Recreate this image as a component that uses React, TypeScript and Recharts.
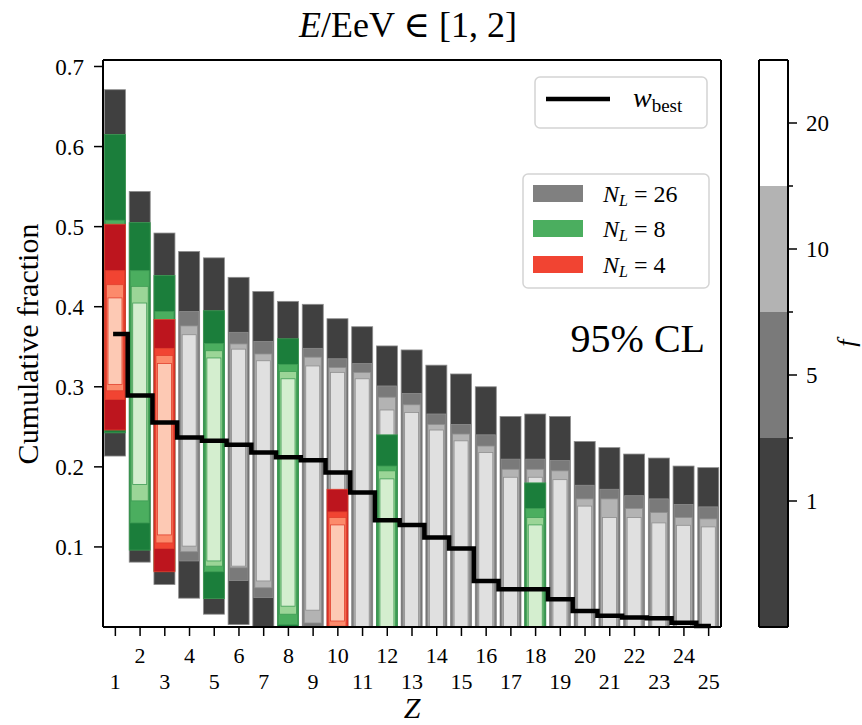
import React from "react";
import { Bar, BarChart, ComposedChart, Line, XAxis, YAxis } from "recharts";

type Band = [number, number] | null;

const Z_VALUES = [
  1, 2, 3, 4, 5, 6, 7, 8, 9, 10, 11, 12, 13, 14, 15, 16, 17, 18, 19, 20, 21,
  22, 23, 24, 25,
];

const W_BEST = [
  0.366, 0.289, 0.2554, 0.2367, 0.2325, 0.2275, 0.218, 0.212, 0.2083, 0.193,
  0.168, 0.1333, 0.1275, 0.1117, 0.098, 0.0575, 0.047, 0.047, 0.0346, 0.02,
  0.014, 0.012, 0.011, 0.0054, 0.0012,
];

// N_L = 26, one interval per Z for f = 1, 5, 10, 20
const GRAY_F1: Band[] = [
  [0.2135, 0.671], [0.081, 0.544], [0.053, 0.492], [0.036, 0.469],
  [0.016, 0.461], [0.003, 0.4367], [0, 0.419], [0, 0.4067], [0, 0.403],
  [0, 0.385], [0, 0.375], [0, 0.351], [0, 0.346], [0, 0.327], [0, 0.316],
  [0, 0.3], [0, 0.263], [0, 0.266], [0, 0.263], [0, 0.2317], [0, 0.224],
  [0, 0.216], [0, 0.211], [0, 0.201], [0, 0.199],
];
const GRAY_F5: Band[] = [
  [0.25, 0.6], [0.1, 0.5], [0.08, 0.43], [0.0825, 0.394], [0.04, 0.39],
  [0.058, 0.368], [0.0367, 0.3567], [0.01, 0.35], [0, 0.348], [0, 0.335],
  [0, 0.329], [0, 0.301], [0, 0.2917], [0, 0.266], [0, 0.253], [0, 0.24],
  [0, 0.2096], [0, 0.2096], [0, 0.208], [0, 0.177], [0, 0.172], [0, 0.164],
  [0, 0.16], [0, 0.153], [0, 0.15],
];
const GRAY_F10: Band[] = [
  [0.26, 0.59], [0.11, 0.49], [0.09, 0.42], [0.094, 0.376], [0.05, 0.38],
  [0.074, 0.3535], [0.049, 0.341], [0.02, 0.34], [0.005, 0.337], [0, 0.324],
  [0, 0.318], [0, 0.287], [0, 0.2775], [0, 0.253], [0, 0.241], [0, 0.226],
  [0, 0.197], [0, 0.197], [0, 0.195], [0, 0.16], [0, 0.16], [0, 0.148],
  [0, 0.143], [0, 0.1367], [0, 0.135],
];
const GRAY_F20: Band[] = [
  [0.27, 0.58], [0.12, 0.48], [0.1, 0.41], [0.101, 0.365], [0.06, 0.37],
  [0.076, 0.347], [0.0575, 0.3325], [0.03, 0.33], [0.021, 0.326],
  [0.0075, 0.318], [0, 0.31], [0, 0.271], [0, 0.268], [0, 0.246],
  [0, 0.2325], [0, 0.218], [0, 0.187], [0, 0.187], [0, 0.184], [0, 0.151],
  [0, 0.1367], [0, 0.1367], [0, 0.13], [0, 0.127], [0, 0.125],
];

// N_L = 8
const GREEN_F1: Band[] = [
  [0.2425, 0.615], [0.096, 0.505], [0.07, 0.439], null, [0.0354, 0.395],
  null, null, [0, 0.36], null, null, null, [0, 0.24], null, null, null, null,
  null, [0, 0.18], null, null, null, null, null, null, null,
];
const GREEN_F5: Band[] = [
  [0.25, 0.508], [0.13, 0.445], [0.1, 0.394], null, [0.069, 0.354], null,
  null, [0.003, 0.328], null, null, null, [0, 0.201], null, null, null, null,
  null, [0, 0.148], null, null, null, null, null, null, null,
];
const GREEN_F10: Band[] = [
  [0.26, 0.49], [0.1575, 0.4254], [0.11, 0.37], null, [0.076, 0.345], null,
  null, [0.016, 0.319], null, null, null, [0, 0.195], null, null, null, null,
  null, [0, 0.1367], null, null, null, null, null, null, null,
];
const GREEN_F20: Band[] = [
  [0.27, 0.48], [0.178, 0.4046], [0.12, 0.36], null, [0.0825, 0.336], null,
  null, [0.026, 0.31], null, null, null, [0, 0.185], null, null, null, null,
  null, [0, 0.1275], null, null, null, null, null, null, null,
];

// N_L = 4
const RED_F1: Band[] = [
  [0.246, 0.503], null, [0.069, 0.384], null, null, null, null, null, null,
  [0, 0.172], null, null, null, null, null, null, null, null, null, null,
  null, null, null, null, null,
];
const RED_F5: Band[] = [
  [0.284, 0.445], null, [0.098, 0.348], null, null, null, null, null, null,
  [0, 0.1437], null, null, null, null, null, null, null, null, null, null,
  null, null, null, null, null,
];
const RED_F10: Band[] = [
  [0.295, 0.4275], null, [0.105, 0.339], null, null, null, null, null, null,
  [0.001, 0.1367], null, null, null, null, null, null, null, null, null, null,
  null, null, null, null, null,
];
const RED_F20: Band[] = [
  [0.303, 0.411], null, [0.115, 0.329], null, null, null, null, null, null,
  [0.0075, 0.1275], null, null, null, null, null, null, null, null, null,
  null, null, null, null, null, null,
];

const Y_TICKS = [0.1, 0.2, 0.3, 0.4, 0.5, 0.6, 0.7];
const Y_MAX = 0.7081;

const CB_LEVELS = [1, 5, 10, 20];
const CB_SPANS = [1.5, 1, 1, 1];
const CB_TICKS = [1, 1.5, 2, 2.5, 3, 3.5, 4];

const GRAYS = ["#404040", "#7a7a7a", "#b3b3b3", "#e0e0e0"];
const GREENS = ["#1b7e3b", "#4bae5f", "#9bd597", "#d4eecf"];
const REDS = ["#bd151e", "#f14432", "#fc8a6b", "#fdc9b4"];
const CB_COLORS = ["#404040", "#7a7a7a", "#b3b3b3", "#ffffff"];

const INSETS = [0, 1, 2, 3.5];
const SERIF = "'Liberation Serif', 'DejaVu Serif', serif";

const SERIES = [
  { key: "gray", bands: [GRAY_F1, GRAY_F5, GRAY_F10, GRAY_F20], colors: GRAYS, stroke: "#8e8e8e" },
  { key: "green", bands: [GREEN_F1, GREEN_F5, GREEN_F10, GREEN_F20], colors: GREENS, stroke: "#3f9c55" },
  { key: "red", bands: [RED_F1, RED_F5, RED_F10, RED_F20], colors: REDS, stroke: "#e0402e" },
];

const rows = Z_VALUES.map((z, i) => {
  const row: Record<string, unknown> = { z, w: W_BEST[i] };
  SERIES.forEach((s) => {
    s.bands.forEach((b, level) => {
      row[`${s.key}${level}`] = b[i];
    });
  });
  return row;
});

function bandShape(key: string, inset: number, fill: string, stroke: string) {
  return (props: any) => {
    const { x, y, width, height, payload } = props;
    if (!payload || payload[key] == null || !height) return <g />;
    const top = height < 0 ? y + height : y;
    return (
      <rect
        x={x + inset + 0.5}
        y={top}
        width={Math.max(width - 2 * inset - 1, 0)}
        height={Math.abs(height)}
        fill={fill}
        stroke={stroke}
        strokeWidth={0.8}
      />
    );
  };
}

function ZTick(props: any) {
  const { x, y, payload } = props;
  const even = payload.value % 2 === 0;
  return (
    <text
      x={x}
      y={y + (even ? 26 : 51.5)}
      textAnchor="middle"
      fontFamily={SERIF}
      fontSize={22}
      fill="#000"
    >
      {payload.value}
    </text>
  );
}

function ColorbarTick(props: any) {
  const { x, y, payload } = props;
  const v = payload.value;
  const major = Number.isInteger(v);
  const ax = x - 18;
  return (
    <g>
      <line x1={ax} x2={ax + (major ? 9 : 5)} y1={y} y2={y} stroke="#000" strokeWidth={1.5} />
      {major && (
        <text x={x} y={y} dy="0.35em" textAnchor="start" fontFamily={SERIF} fontSize={23} fill="#000">
          {CB_LEVELS[v - 1]}
        </text>
      )}
    </g>
  );
}

const frameLine = { stroke: "#000", strokeWidth: 2 };

export default function App() {
  const cbRow: Record<string, unknown> = { name: "f" };
  CB_SPANS.forEach((s, i) => {
    cbRow[`s${i}`] = s;
  });

  return (
    <div style={{ position: "absolute", left: 0, top: 0, width: 862, height: 725, background: "#fff" }}>
      <div style={{ position: "absolute", left: 0, top: 0 }}>
        <ComposedChart
          width={862}
          height={725}
          data={rows}
          margin={{ top: 59, right: 140, bottom: 38, left: 43 }}
          barSize={22}
          barGap={-22}
          barCategoryGap={0}
        >
          <XAxis
            dataKey="z"
            height={60}
            interval={0}
            tickSize={9}
            tickMargin={1}
            tick={(p: any) => <ZTick {...p} />}
            axisLine={frameLine}
            tickLine={{ stroke: "#000", strokeWidth: 1.5 }}
          />
          <XAxis xAxisId="top" dataKey="z" orientation="top" height={1} tick={false} tickLine={false} axisLine={frameLine} />
          <YAxis
            domain={[0, Y_MAX]}
            ticks={Y_TICKS}
            width={60}
            tickSize={9}
            tickMargin={10}
            tickFormatter={(v: number) => v.toFixed(1)}
            tick={{ fill: "#000", fontSize: 23, fontFamily: SERIF }}
            axisLine={frameLine}
            tickLine={{ stroke: "#000", strokeWidth: 1.5 }}
          />
          <YAxis yAxisId="right" orientation="right" width={1} domain={[0, Y_MAX]} tick={false} tickLine={false} axisLine={frameLine} />
          {SERIES.map((s) =>
            s.bands.map((_, level) => {
              const key = `${s.key}${level}`;
              return (
                <Bar
                  key={key}
                  dataKey={key}
                  isAnimationActive={false}
                  shape={bandShape(key, INSETS[level], s.colors[level], s.stroke)}
                />
              );
            }),
          )}
          <Line
            dataKey="w"
            type="step"
            stroke="#000"
            strokeWidth={4.5}
            strokeLinecap="square"
            dot={false}
            activeDot={false}
            isAnimationActive={false}
          />
        </ComposedChart>
      </div>

      <div style={{ position: "absolute", left: 740, top: 0 }}>
        <BarChart
          width={122}
          height={725}
          data={[cbRow]}
          margin={{ top: 59, right: 14, bottom: 97, left: 18 }}
          barCategoryGap={0}
        >
          <XAxis dataKey="name" height={1} tick={false} tickLine={false} axisLine={frameLine} />
          <XAxis xAxisId="top" dataKey="name" orientation="top" height={1} tick={false} tickLine={false} axisLine={frameLine} />
          <YAxis yAxisId="left" width={1} domain={[0, 4.5]} tick={false} tickLine={false} axisLine={frameLine} />
          <YAxis
            orientation="right"
            width={60}
            domain={[0, 4.5]}
            ticks={CB_TICKS}
            interval={0}
            tickSize={9}
            tickMargin={9}
            tickLine={false}
            tick={(p: any) => <ColorbarTick {...p} />}
            axisLine={frameLine}
          />
          {CB_SPANS.map((_, i) => (
            <Bar key={i} dataKey={`s${i}`} stackId="cb" fill={CB_COLORS[i]} isAnimationActive={false} />
          ))}
        </BarChart>
      </div>

      <svg
        width={862}
        height={725}
        style={{ position: "absolute", left: 0, top: 0, pointerEvents: "none" }}
        fontFamily={SERIF}
      >
        <text x={408} y={37} textAnchor="middle" fontSize={36} fill="#000">
          <tspan fontStyle="italic">E</tspan>/EeV ∈ [1, 2]
        </text>
        <text
          x={38}
          y={344}
          transform="rotate(-90, 38, 344)"
          textAnchor="middle"
          fontSize={30}
          fill="#000"
        >
          Cumulative fraction
        </text>
        <text x={412} y={718} textAnchor="middle" fontSize={30} fontStyle="italic" fill="#000">
          Z
        </text>
        <text x={855} y={343} transform="rotate(-90, 855, 343)" textAnchor="middle" fontSize={26} fontStyle="italic" fill="#000">
          f
        </text>
        <text x={705} y={352} textAnchor="end" fontSize={40} fill="#000">
          95% CL
        </text>

        <rect x={535} y={77} width={172} height={51} rx={5} fill="#fff" stroke="#d4d4d4" strokeWidth={1.5} />
        <line x1={546} x2={610} y1={99} y2={99} stroke="#000" strokeWidth={4.5} />
        <text x={633} y={107} fontSize={28} fill="#000">
          <tspan fontStyle="italic">w</tspan>
          <tspan fontSize={19} dy={5}>best</tspan>
        </text>

        <rect x={523} y={174} width={186} height={114} rx={5} fill="#fff" stroke="#d4d4d4" strokeWidth={1.5} />
        {[
          { c: "#808080", label: "26", y: 185 },
          { c: "#4bae5f", label: "8", y: 220 },
          { c: "#f14432", label: "4", y: 256 },
        ].map((e) => (
          <g key={e.label}>
            <rect x={533} y={e.y} width={50} height={17} fill={e.c} />
            <text x={603} y={e.y + 17} fontSize={24} fill="#000">
              <tspan fontStyle="italic">N</tspan>
              <tspan fontStyle="italic" fontSize={16} dy={4}>L</tspan>
              <tspan dy={-4}> = {e.label}</tspan>
            </text>
          </g>
        ))}
      </svg>
    </div>
  );
}
